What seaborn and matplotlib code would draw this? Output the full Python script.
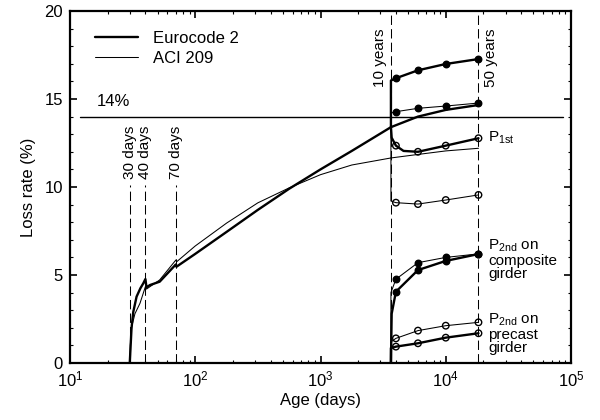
import matplotlib
matplotlib.use("Agg")
import matplotlib.pyplot as plt
import matplotlib.ticker as mticker
import seaborn as sns
import pandas as pd

# ---------------- data ----------------
ec2_days = [30, 31, 32, 34, 36.5, 38.5, 40, 40.8, 43.5, 52, 70, 70.8, 100, 178, 316, 562, 1000, 1778, 3650, 6000, 10000, 18250]
ec2_loss = [0, 2.0, 2.9, 3.77, 4.25, 4.53, 4.77, 4.3, 4.43, 4.62, 5.6, 5.47, 6.2, 7.45, 8.7, 9.9, 11.0, 12.05, 13.4, 14.0, 14.38, 14.66]

aci_days = [30, 30.3, 31.1, 33, 36.2, 40, 40.8, 52, 70, 71, 100, 178, 316, 562, 1000, 1778, 3650, 6000, 10000, 18250]
aci_loss = [0, 1.0, 2.06, 2.8, 3.39, 4.34, 4.2, 4.72, 5.85, 5.75, 6.65, 7.95, 9.1, 9.95, 10.7, 11.25, 11.65, 11.85, 12.05, 12.2]

marker_days = [4000, 6000, 10000, 18250]

# branches after 10 years (line start, then marker points)
ec2_top_start_d = [3650, 3650]
ec2_top_start_v = [13.4, 16.05]
ec2_top = [16.18, 16.63, 16.99, 17.27]

aci_top_start_d = [3650, 3650]
aci_top_start_v = [11.65, 14.2]
aci_top = [14.28, 14.47, 14.60, 14.77]

ec2_p1_start_d = [3650, 3700]
ec2_p1_start_v = [13.4, 12.8]
ec2_p1_dip_d = [4600]
ec2_p1_dip_v = [12.05]
ec2_p1 = [12.35, 12.0, 12.35, 12.77]

aci_p1_start_d = [3650, 3650]
aci_p1_start_v = [11.65, 9.2]
aci_p1 = [9.11, 9.03, 9.26, 9.55]

ec2_comp_start_d = [3650, 3700]
ec2_comp_start_v = [0, 2.8]
ec2_comp = [4.05, 5.28, 5.80, 6.19]

aci_comp_start_d = [3650, 3650]
aci_comp_start_v = [0, 4.0]
aci_comp = [4.76, 5.70, 6.0, 6.2]

ec2_pre_start_d = [3650, 3650]
ec2_pre_start_v = [0, 0.85]
ec2_pre = [0.93, 1.12, 1.44, 1.69]

aci_pre_start_d = [3650, 3650]
aci_pre_start_v = [0, 1.2]
aci_pre = [1.40, 1.84, 2.12, 2.31]

event_days_short = [30, 40, 70]
event_labels_short = ["30 days", "40 days", "70 days"]
event_days_long = [3650, 18250]
event_labels_long = ["10 years", "50 years"]

limit_value = 14
x_ticks = [10, 100, 1000, 10000, 100000]
y_ticks = [0, 5, 10, 15, 20]

# ---------------- style ----------------
sns.set_theme(style="ticks")
plt.rcParams["font.family"] = ["Liberation Sans", "DejaVu Sans"]
plt.rcParams.update({
    "mathtext.fontset": "custom",
    "mathtext.rm": "Liberation Sans",
    "mathtext.it": "Liberation Sans:italic",
    "mathtext.bf": "Liberation Sans:bold",
    "xtick.direction": "in",
    "ytick.direction": "in",
    "xtick.top": True,
    "ytick.right": True,
    "axes.edgecolor": "black",
    "axes.linewidth": 1.6,
    "text.color": "black",
    "axes.labelcolor": "black",
    "xtick.color": "black",
    "ytick.color": "black",
})

THICK = 1.7
THIN = 0.75
FS = 12

fig = plt.figure(figsize=(6.0, 4.2), dpi=100)
ax = fig.add_axes([70 / 600, 1 - 363 / 420, 501 / 600, 352 / 420])


def line(d, v, lw, label=None):
    df = pd.DataFrame({"d": d, "v": v})
    sns.lineplot(data=df, x="d", y="v", ax=ax, color="black", lw=lw,
                 estimator=None, sort=False, label=label, legend=False)


def marks(v, filled, lw):
    df = pd.DataFrame({"d": marker_days, "v": v})
    sns.scatterplot(data=df, x="d", y="v", ax=ax, s=22, marker="o",
                    facecolor="black" if filled else "none",
                    edgecolor="black", linewidth=lw, zorder=5, legend=False)


# event dashed lines
for d in event_days_short:
    ax.plot([d, d], [0, 10.1], color="black", lw=0.75, dashes=(9, 4))
for d in event_days_long:
    ax.plot([d, d], [0, 20], color="black", lw=0.75, dashes=(9, 4))

# 14% limit
ax.plot([12, 86000], [limit_value, limit_value], color="black", lw=1.0)

# main curves
line(ec2_days, ec2_loss, THICK, "Eurocode 2")
line(aci_days, aci_loss, THIN, "ACI 209")
legend_handles = list(ax.lines[-2:])

# branches
line(ec2_top_start_d + marker_days, ec2_top_start_v + ec2_top, THICK)
marks(ec2_top, True, 1.0)
line(aci_top_start_d + marker_days, aci_top_start_v + aci_top, THIN)
marks(aci_top, True, 1.0)

p1_d = ec2_p1_start_d + marker_days[:1] + ec2_p1_dip_d + marker_days[1:]
p1_v = ec2_p1_start_v + ec2_p1[:1] + ec2_p1_dip_v + ec2_p1[1:]
line(p1_d, p1_v, THICK)
marks(ec2_p1, False, 1.0)
line(aci_p1_start_d + marker_days, aci_p1_start_v + aci_p1, THIN)
marks(aci_p1, False, 1.0)

line(ec2_comp_start_d + marker_days, ec2_comp_start_v + ec2_comp, THICK)
marks(ec2_comp, True, 1.0)
line(aci_comp_start_d + marker_days, aci_comp_start_v + aci_comp, THIN)
marks(aci_comp, True, 1.0)

line(ec2_pre_start_d + marker_days, ec2_pre_start_v + ec2_pre, THICK)
marks(ec2_pre, False, 1.0)
line(aci_pre_start_d + marker_days, aci_pre_start_v + aci_pre, THIN)
marks(aci_pre, False, 1.0)

# axes
ax.set_xscale("log")
ax.set_xlim(10, 100000)
ax.set_ylim(0, 20)
ax.set_xticks(x_ticks)
ax.xaxis.set_major_formatter(mticker.LogFormatterSciNotation())
ax.set_yticks(y_ticks)
ax.yaxis.set_minor_locator(mticker.MultipleLocator(1))
ax.tick_params(which="major", length=5, width=1.2, labelsize=FS, pad=5)
ax.tick_params(which="minor", length=2.5, width=0.8)
ax.set_xlabel("Age (days)", fontsize=FS, labelpad=2)
ax.set_ylabel("Loss rate (%)", fontsize=FS, labelpad=6)
for s in ax.spines.values():
    s.set_visible(True)
    s.set_linewidth(1.6)

# annotations
ax.text(16.4, 14.85, "14%", fontsize=FS, va="center", ha="left")
for d, lab in zip(event_days_short, event_labels_short):
    ax.text(d, 10.45, lab, rotation=90, fontsize=FS - 1, ha="center", va="bottom")
ax.text(3650 / 1.08, 19.0, event_labels_long[0], rotation=90, fontsize=FS - 1, ha="right", va="top")
ax.text(18250 * 1.10, 19.0, event_labels_long[1], rotation=90, fontsize=FS - 1, ha="left", va="top")
ax.text(21700, 12.8, r"P$_{\mathrm{1st}}$", fontsize=FS - 1, ha="left", va="center")
ax.text(21700, 7.1, "P$_{\\mathrm{2nd}}$ on\ncomposite\ngirder", fontsize=FS - 1,
        ha="left", va="top", linespacing=0.95)
ax.text(21700, 2.9, "P$_{\\mathrm{2nd}}$ on\nprecast\ngirder", fontsize=FS - 1,
        ha="left", va="top", linespacing=0.95)

ax.legend(handles=legend_handles, labels=["Eurocode 2", "ACI 209"], loc="upper left",
          bbox_to_anchor=(0.02, 0.985), frameon=False, fontsize=FS,
          handlelength=2.6, handletextpad=0.9, labelspacing=0.3)

fig.savefig("out.png", dpi=100)
